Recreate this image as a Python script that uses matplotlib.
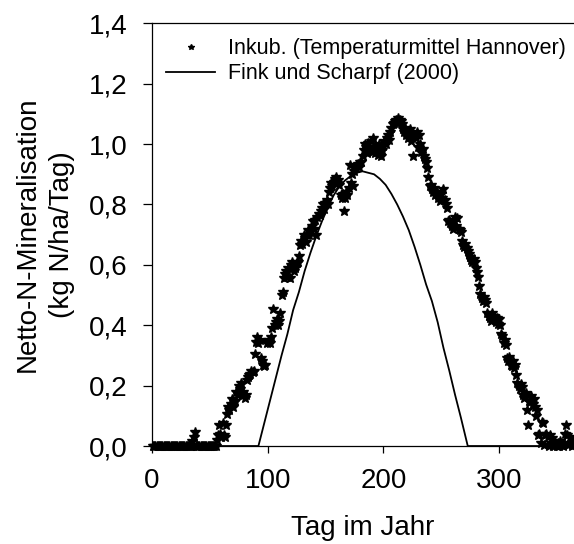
import numpy as np
import matplotlib
matplotlib.use('Agg')
import matplotlib.pyplot as plt

plt.rcParams['font.family'] = ['Liberation Sans', 'DejaVu Sans']

# Inkubation, daily values (day 1..365)
inkub = [
    # 1-34
    0, 0, 0, 0, 0, 0, 0, 0, 0, 0, 0, 0, 0, 0, 0, 0, 0,
    0, 0, 0, 0, 0, 0, 0, 0, 0, 0, 0, 0, 0, 0, 0, 0, 0,
    # 35-55
    0.015, 0.03, 0.047, 0, 0, 0, 0, 0, 0, 0, 0, 0, 0, 0, 0, 0, 0, 0, 0, 0, 0,
    # 56-64
    0.02, 0.035, 0.07, 0.04, 0.03, 0.075, 0.035, 0.03, 0.07,
    # 65-72
    0.105, 0.13, 0.12, 0.14, 0.155, 0.13, 0.145, 0.15,
    # 73-87
    0.18, 0.17, 0.20, 0.19, 0.21, 0.17, 0.18, 0.16, 0.17, 0.22, 0.23, 0.235, 0.24, 0.25, 0.245,
    # 88-103
    0.25, 0.305, 0.345, 0.36, 0.34, 0.35, 0.29, 0.28, 0.27, 0.265, 0.27, 0.34, 0.345, 0.35, 0.34, 0.36,
    # 104-111
    0.39, 0.455, 0.40, 0.41, 0.42, 0.40, 0.415, 0.44,
    # 112-127
    0.50, 0.51, 0.555, 0.57, 0.58, 0.56, 0.59, 0.555, 0.60, 0.61, 0.60, 0.58, 0.59, 0.605, 0.61, 0.63,
    # 128-136
    0.665, 0.68, 0.67, 0.70, 0.69, 0.675, 0.70, 0.715, 0.70,
    # 137-145
    0.71, 0.73, 0.745, 0.72, 0.75, 0.70, 0.76, 0.77, 0.765,
    # 146-152
    0.78, 0.79, 0.80, 0.785, 0.805, 0.815, 0.80,
    # 153-162
    0.84, 0.855, 0.87, 0.86, 0.875, 0.885, 0.89, 0.87, 0.88, 0.865,
    # 163-169
    0.83, 0.82, 0.835, 0.78, 0.82, 0.84, 0.83,
    # 170-180
    0.855, 0.93, 0.87, 0.90, 0.86, 0.91, 0.92, 0.93, 0.935, 0.925, 0.94,
    # 181-192
    0.94, 0.96, 0.98, 1.00, 0.99, 0.97, 1.005, 0.99, 1.01, 0.975, 1.02, 0.99,
    # 193-200
    0.97, 0.99, 0.965, 1.00, 0.975, 0.96, 0.98, 0.995,
    # 201-207
    1.01, 1.00, 1.02, 1.03, 1.015, 1.04, 1.055,
    # 208-216
    1.065, 1.07, 1.075, 1.08, 1.07, 1.085, 1.08, 1.075, 1.065,
    # 217-225
    1.05, 1.04, 1.055, 1.03, 1.02, 1.04, 1.05, 1.01, 1.035,
    # 226-237
    0.96, 1.03, 1.02, 1.04, 0.99, 1.03, 1.00, 0.975, 0.985, 0.96, 0.95, 0.94,
    # 238-254
    0.92, 0.89, 0.86, 0.865, 0.85, 0.84, 0.855, 0.83, 0.84, 0.82, 0.83, 0.81, 0.835, 0.82, 0.85, 0.815, 0.80,
    # 255-267
    0.79, 0.745, 0.75, 0.74, 0.73, 0.72, 0.745, 0.76, 0.73, 0.755, 0.72, 0.715, 0.71,
    # 268-274
    0.68, 0.665, 0.66, 0.67, 0.655, 0.645, 0.635,
    # 275-283
    0.625, 0.615, 0.61, 0.62, 0.61, 0.59, 0.575, 0.56, 0.53,
    # 284-289
    0.505, 0.49, 0.48, 0.495, 0.485, 0.475,
    # 290-301
    0.44, 0.43, 0.425, 0.415, 0.44, 0.42, 0.43, 0.41, 0.425, 0.405, 0.42, 0.40,
    # 302-306
    0.37, 0.365, 0.34, 0.35, 0.335,
    # 307-315
    0.29, 0.28, 0.295, 0.27, 0.265, 0.28, 0.26, 0.27, 0.235,
    # 316-320
    0.21, 0.20, 0.19, 0.205, 0.195,
    # 321-330
    0.17, 0.16, 0.175, 0.12, 0.07, 0.15, 0.145, 0.165, 0.14, 0.155,
    # 331-365
    0.13, 0.10, 0.12, 0.035, 0.04, 0.01, 0.08, 0.075, 0.005, 0.035,
    0.04, 0.03, 0.0, 0.035, 0.01, 0.025, 0.0, 0.01, 0.005, 0.0,
    0.01, 0.0, 0.015, 0.005, 0.0, 0.01, 0.04, 0.07, 0.035, 0.005,
    0.03, 0.01, 0.0, 0.015, 0.005,
]
days = np.arange(1, len(inkub) + 1)

# Fink und Scharpf (2000)
fink_days = [0, 92, 97, 102, 107, 112, 117, 122, 127, 132, 137, 142, 147, 152,
             157, 162, 167, 172, 177, 182, 187, 192, 197, 202, 207, 212, 217,
             222, 227, 232, 237, 242, 247, 252, 257, 262, 267, 273, 365]
fink_vals = [0, 0, 0.075, 0.15, 0.225, 0.30, 0.37, 0.45, 0.51, 0.58, 0.64,
             0.695, 0.745, 0.79, 0.83, 0.86, 0.88, 0.895, 0.905, 0.91, 0.905,
             0.90, 0.885, 0.865, 0.835, 0.80, 0.76, 0.715, 0.66, 0.60, 0.535,
             0.48, 0.41, 0.325, 0.25, 0.17, 0.095, 0.0, 0]

xticks = [0, 100, 200, 300]
yticks = [0.0, 0.2, 0.4, 0.6, 0.8, 1.0, 1.2, 1.4]
ytick_labels = ['0,0', '0,2', '0,4', '0,6', '0,8', '1,0', '1,2', '1,4']

fig = plt.figure(figsize=(5.74, 5.44), dpi=100)
ax = fig.add_axes([0.2648, 0.1801, 0.7355, 0.777])

ax.plot(fink_days, fink_vals, color='black', lw=1.3,
        label='Fink und Scharpf (2000)', clip_on=False, zorder=2)
ax.plot(days, inkub, linestyle='none', marker='*', ms=7.5, color='black',
        label='Inkub. (Temperaturmittel Hannover)', clip_on=False, zorder=3)

ax.set_xlim(0, 365)
ax.set_ylim(0, 1.4)
ax.set_xticks(xticks)
ax.set_yticks(yticks)
ax.set_yticklabels(ytick_labels)
ax.spines['right'].set_visible(False)
for s in ['left', 'bottom', 'top']:
    ax.spines[s].set_linewidth(0.9)
ax.tick_params(axis='both', direction='out', labelsize=20, pad=11, width=0.9)
ax.tick_params(axis='y', length=6.5)
ax.tick_params(axis='x', length=5)

ax.set_xlabel('Tag im Jahr', fontsize=20, labelpad=15)
ax.set_ylabel('Netto-N-Mineralisation\n(kg N/ha/Tag)', fontsize=20,
              labelpad=10, linespacing=1.4)

h, l = ax.get_legend_handles_labels()
ax.legend(h[::-1], l[::-1], loc='upper left', bbox_to_anchor=(0.033, 0.965),
          frameon=False, fontsize=15.5, handlelength=2.3, handletextpad=0.6,
          labelspacing=0.2, borderpad=0, borderaxespad=0, markerscale=0.55)

fig.savefig('out.png', dpi=100)
